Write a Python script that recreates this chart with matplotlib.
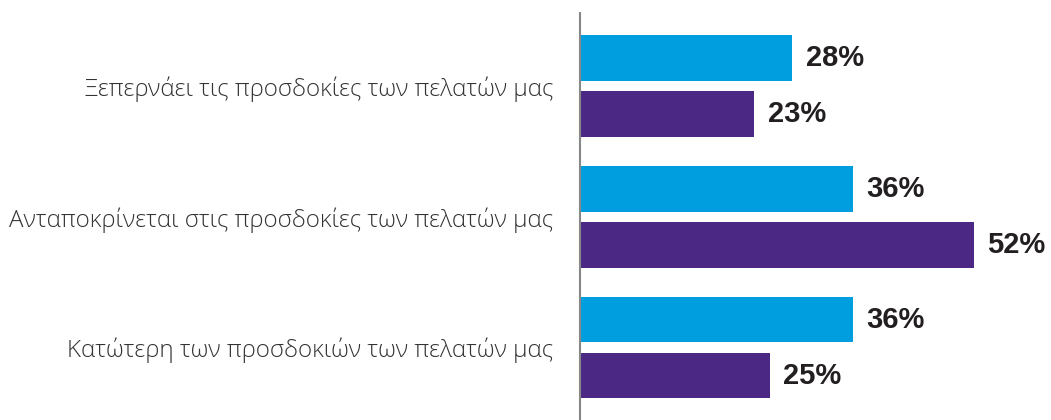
import matplotlib
matplotlib.use("Agg")
import matplotlib.pyplot as plt
import numpy as np

categories = [
    "Ξεπερνάει τις προσδοκίες των πελατών μας",
    "Ανταποκρίνεται στις προσδοκίες των πελατών μας",
    "Κατώτερη των προσδοκιών των πελατών μας",
]
series_blue = [28, 36, 36]
series_purple = [23, 52, 25]

BLUE = "#009edf"
PURPLE = "#4b2884"

fig = plt.figure(figsize=(10.51, 4.2), dpi=100)
ax = fig.add_axes([580 / 1051, 0, 471 / 1051, 407 / 420])

y = np.arange(len(categories))
offset = 0.214
height = 0.348

bars_b = ax.barh(y - offset, series_blue, height=height, color=BLUE)
bars_p = ax.barh(y + offset, series_purple, height=height, color=PURPLE)

for bars, vals in ((bars_b, series_blue), (bars_p, series_purple)):
    for b, v in zip(bars, vals):
        ax.text(v + 1.75, b.get_y() + b.get_height() / 2, f"{v}%",
                va="center", ha="left", fontsize=21, fontweight="bold",
                family=["Liberation Sans", "DejaVu Sans"], color="#231f20")

ax.set_xlim(0, 471 / 7.58)
ax.set_ylim(2.554, -0.558)

ax.set_yticks(y)
ax.set_yticklabels(categories, family=["Open Sans", "DejaVu Sans"],
                   fontweight="light", fontsize=17.4, color="#333333")
ax.tick_params(axis="y", length=0, pad=19)
ax.set_xticks([])

for s in ("top", "right", "bottom"):
    ax.spines[s].set_visible(False)
ax.spines["left"].set_color("#888888")
ax.spines["left"].set_linewidth(1.5)

fig.savefig("out.png", dpi=100)
